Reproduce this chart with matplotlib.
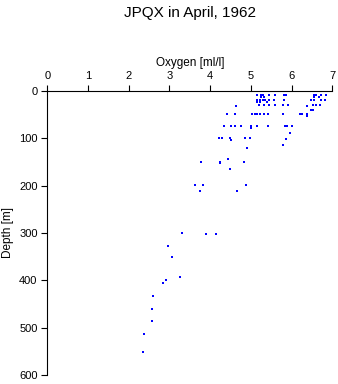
import matplotlib
matplotlib.use("Agg")
import matplotlib.pyplot as plt

plt.rcParams['font.family'] = ['Liberation Sans', 'DejaVu Sans']

oxygen = [
    0.745, 5.12, 5.26, 5.40, 5.55, 5.80, 5.84, 6.00, 6.55, 6.60, 6.74,
    5.14, 5.24, 5.29, 5.45, 5.60, 5.82, 5.86, 6.56, 6.61, 6.72, 6.85,
    5.26, 5.32, 6.55, 6.68,
    5.16, 5.22, 5.29, 5.36, 5.45, 5.58, 5.82, 6.49, 6.55, 6.72, 6.82,
    5.14, 5.22, 5.40,
    5.20, 5.32, 5.44, 5.59, 5.80, 5.92, 6.52, 6.60, 6.69,
    4.64, 6.37,
    6.47, 6.53,
    4.41, 4.60, 5.03, 5.10, 5.16, 5.22, 5.33, 5.43, 5.80, 6.21, 6.26, 6.37,
    6.38,
    4.33, 4.52, 4.62, 4.77, 5.01, 5.14, 5.43, 5.85, 5.90, 6.02,
    5.01, 5.95,
    4.22, 4.28, 4.50, 4.86, 4.98, 5.86,
    4.52, 5.79, 4.91, 4.45,
    3.77, 4.23, 4.83, 4.24, 4.50,
    3.64, 3.83, 4.88, 3.76, 4.66,
    3.31, 3.89, 4.14,
    2.97, 3.06, 3.26, 2.91, 2.83, 2.60, 2.58, 2.58, 2.38, 2.34,
]
depth = [
    0, 0, 0, 0, 0, 0, 0, 0, 0, 0, 0,
    9, 9, 9, 9, 9, 9, 9, 9, 9, 9, 9,
    13, 13, 13, 13,
    20, 20, 20, 20, 20, 20, 20, 20, 20, 20, 20,
    23, 23, 23,
    30, 30, 30, 30, 30, 30, 30, 30, 30,
    32, 32,
    40, 40,
    49, 49, 49, 49, 49, 49, 49, 49, 49, 49, 49, 49,
    54,
    75, 75, 75, 75, 75, 75, 75, 75, 75, 75,
    78, 89,
    100, 100, 100, 100, 100, 101,
    104, 115, 120, 143,
    150, 150, 150, 153, 166,
    199, 199, 199, 212, 212,
    300, 302, 302,
    328, 350, 394, 400, 405, 434, 461, 485, 513, 551,
]

x_ticks = [0, 1, 2, 3, 4, 5, 6, 7]
y_ticks = [0, 100, 200, 300, 400, 500, 600]

fig = plt.figure(figsize=(3.38, 3.84), dpi=100)
ax = fig.add_axes([0.140, 0.0234, 0.843, 0.740])

ax.plot(oxygen, depth, linestyle='none', marker='s', markersize=1.8,
        markeredgewidth=0, color='#0000ff')

ax.set_xlim(0, 7)
ax.set_ylim(600, 0)
ax.set_xticks(x_ticks)
ax.set_yticks(y_ticks)

ax.xaxis.tick_top()
ax.xaxis.set_label_position('top')
ax.spines['right'].set_visible(False)
ax.spines['bottom'].set_visible(False)
for s in ('top', 'left'):
    ax.spines[s].set_linewidth(0.8)
ax.tick_params(length=4, width=0.8, labelsize=8, pad=3)

ax.set_xlabel('Oxygen [ml/l]', fontsize=8.5, labelpad=4)
ax.set_ylabel('Depth [m]', fontsize=8.5, labelpad=4)

fig.text(0.562, 0.967, 'JPQX in April, 1962', ha='center', va='center',
         fontsize=11)

fig.savefig('out.png', dpi=100)
